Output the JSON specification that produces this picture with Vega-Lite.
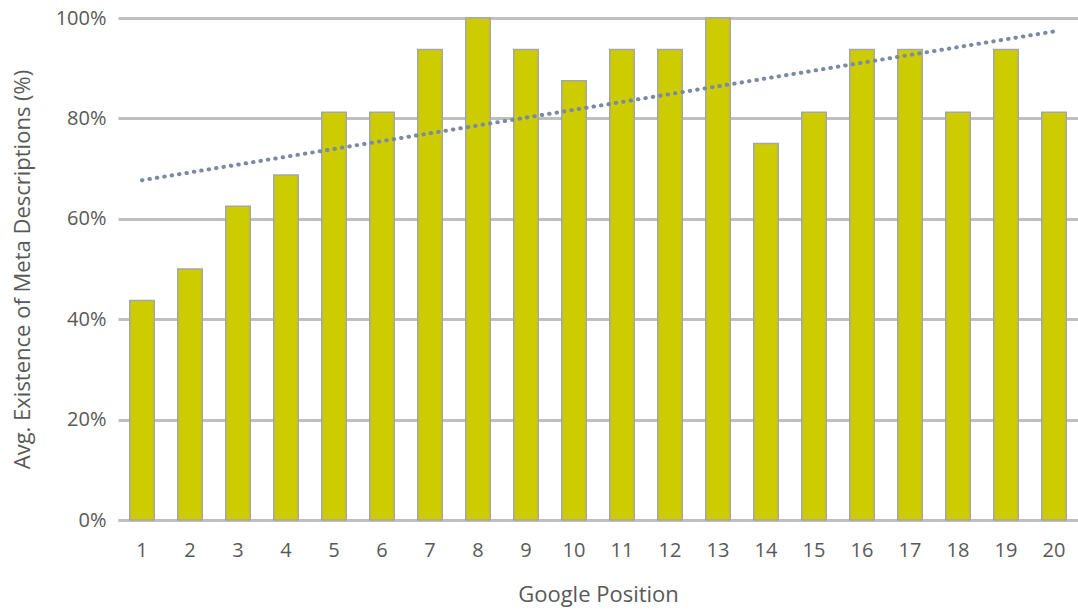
{
  "$schema": "https://vega.github.io/schema/vega-lite/v6.json",
  "width": 960,
  "height": 502,
  "autosize": {"type": "none"},
  "padding": {"left": 118, "top": 18, "right": 0, "bottom": 90},
  "background": "white",
  "config": {
    "view": {"stroke": null},
    "font": "Open Sans",
    "axis": {
      "labelFont": "Open Sans",
      "titleFont": "Open Sans",
      "labelColor": "#595959",
      "titleColor": "#595959",
      "labelFontSize": 20,
      "titleFontSize": 22,
      "titleFontWeight": "normal",
      "ticks": false
    }
  },
  "data": {
    "values": [
      {"position": 1, "value": 43.75},
      {"position": 2, "value": 50},
      {"position": 3, "value": 62.5},
      {"position": 4, "value": 68.75},
      {"position": 5, "value": 81.25},
      {"position": 6, "value": 81.25},
      {"position": 7, "value": 93.75},
      {"position": 8, "value": 100},
      {"position": 9, "value": 93.75},
      {"position": 10, "value": 87.5},
      {"position": 11, "value": 93.75},
      {"position": 12, "value": 93.75},
      {"position": 13, "value": 100},
      {"position": 14, "value": 75},
      {"position": 15, "value": 81.25},
      {"position": 16, "value": 93.75},
      {"position": 17, "value": 93.75},
      {"position": 18, "value": 81.25},
      {"position": 19, "value": 93.75},
      {"position": 20, "value": 81.25}
    ]
  },
  "encoding": {
    "x": {
      "field": "position",
      "type": "ordinal",
      "scale": {"domain": [1,2,3,4,5,6,7,8,9,10,11,12,13,14,15,16,17,18,19,20], "paddingInner": 0.49, "paddingOuter": 0.245},
      "axis": {
        "title": "Google Position",
        "labelAngle": 0,
        "labelPadding": 20,
        "titlePadding": 24,
        "domain": true,
        "domainColor": "#bfbfbf",
        "domainWidth": 3,
        "grid": false
      }
    },
    "y": {
      "field": "value",
      "type": "quantitative",
      "scale": {"domain": [0, 100], "nice": false},
      "axis": {
        "title": "Avg. Existence of Meta Descriptions (%)",
        "values": [0, 20, 40, 60, 80, 100],
        "labelExpr": "datum.value + '%'",
        "labelPadding": 12,
        "titlePadding": 21,
        "domain": false,
        "grid": true,
        "gridColor": "#bfbfbf",
        "gridWidth": 3
      }
    }
  },
  "layer": [
    {
      "mark": {"type": "bar", "color": "#cccc00", "stroke": "#a6a6a6", "strokeWidth": 1.5}
    },
    {
      "transform": [{"regression": "value", "on": "position"}],
      "mark": {"type": "line", "color": "#7b8aa3", "strokeWidth": 4, "strokeDash": [0.5, 7], "strokeCap": "round"}
    }
  ]
}
